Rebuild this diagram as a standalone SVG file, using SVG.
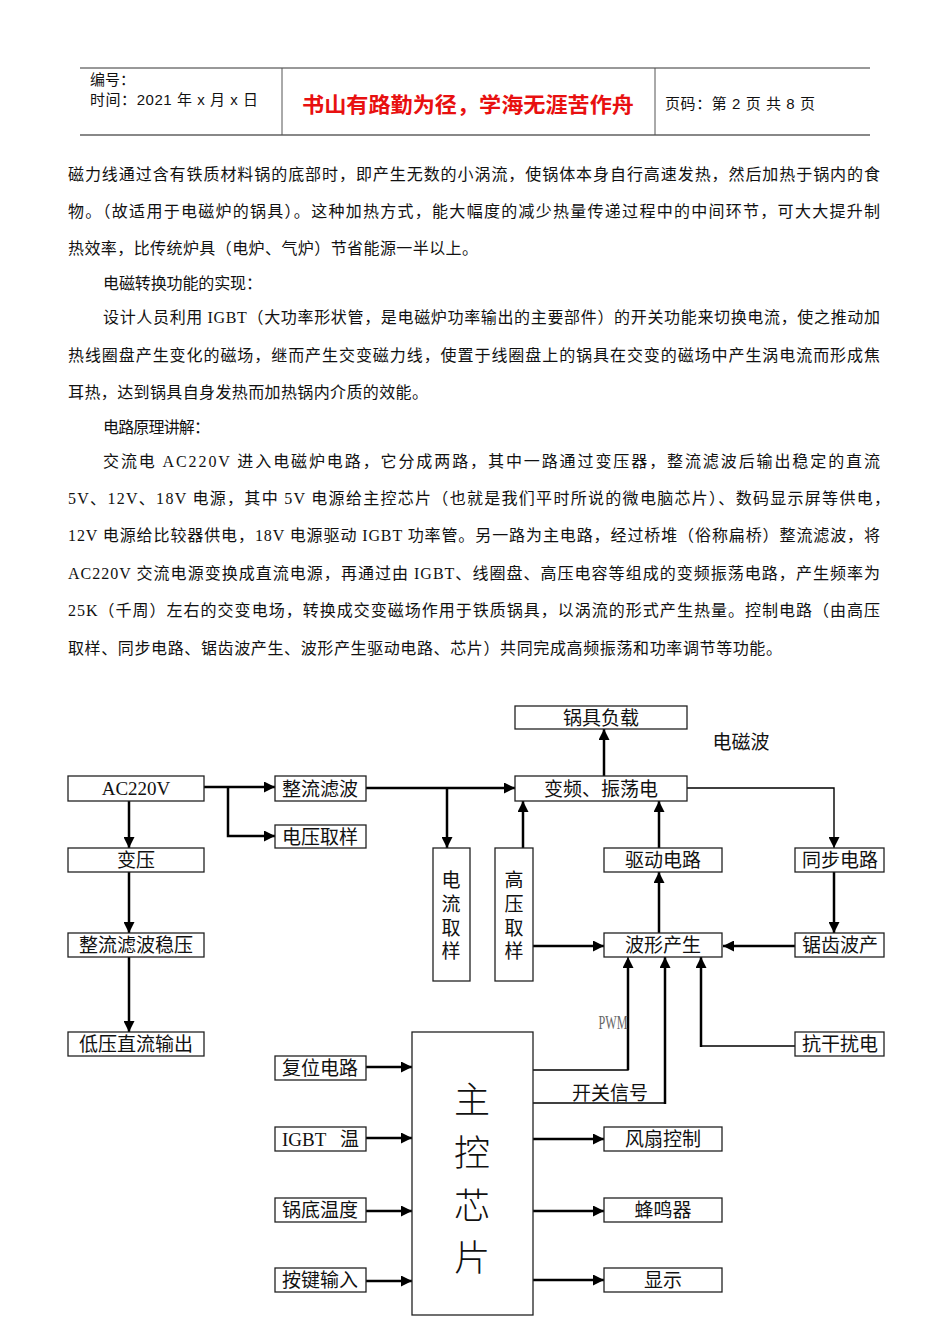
<svg xmlns="http://www.w3.org/2000/svg" width="950" height="1344" viewBox="0 0 950 1344">
<style>
.p{font-family:"Liberation Serif","Noto Sans CJK SC",serif;font-size:16px;fill:#111}
.h{font-family:"Liberation Sans","Noto Sans CJK SC",sans-serif;font-size:15px;fill:#111}
.box{fill:#fff;stroke:#222;stroke-width:1.3}
.lbl{font-family:"Liberation Serif","Noto Sans CJK SC",sans-serif;font-size:19px;fill:#111;text-anchor:middle}
.c{fill:none;stroke:#000;stroke-width:2.5}
.t{fill:none;stroke:#000;stroke-width:1.4}
</style>
<defs>
<marker id="ah" viewBox="0 0 10 10" refX="10" refY="5" markerWidth="11" markerHeight="11" markerUnits="userSpaceOnUse" orient="auto"><path d="M0,0 L10,5 L0,10 z" fill="#000"/></marker>
</defs>
<rect width="950" height="1344" fill="#fff"/>
<g id="header">
<line x1="80" y1="68" x2="870" y2="68" stroke="#333" stroke-width="1"/>
<line x1="80" y1="135" x2="870" y2="135" stroke="#888" stroke-width="2"/>
<line x1="282" y1="68" x2="282" y2="135" stroke="#555" stroke-width="1"/>
<line x1="655" y1="68" x2="655" y2="135" stroke="#555" stroke-width="1"/>
<text class="h" x="90" y="85">编号：</text>
<text class="h" x="90" y="105" textLength="168" lengthAdjust="spacing">时间：2021 年 x 月 x 日</text>
<text x="302" y="112" textLength="332" lengthAdjust="spacingAndGlyphs" style="font-family:'Noto Sans CJK SC',sans-serif;font-size:21px;font-weight:bold;fill:#e81010">书山有路勤为径，学海无涯苦作舟</text>
<text class="h" x="665" y="109" textLength="150" lengthAdjust="spacing">页码：第 2 页  共 8 页</text>
</g>
<g id="body-text">
<text class="p" x="68" y="180" textLength="812" lengthAdjust="spacing">磁力线通过含有铁质材料锅的底部时，即产生无数的小涡流，使锅体本身自行高速发热，然后加热于锅内的食</text>
<text class="p" x="68" y="217" textLength="812" lengthAdjust="spacing">物。（故适用于电磁炉的锅具）。这种加热方式，能大幅度的减少热量传递过程中的中间环节，可大大提升制</text>
<text class="p" x="68" y="254" textLength="410" lengthAdjust="spacing">热效率，比传统炉具（电炉、气炉）节省能源一半以上。</text>
<text class="p" x="103" y="289" textLength="159" lengthAdjust="spacing">电磁转换功能的实现：</text>
<text class="p" x="103" y="323" textLength="777" lengthAdjust="spacing">设计人员利用 IGBT（大功率形状管，是电磁炉功率输出的主要部件）的开关功能来切换电流，使之推动加</text>
<text class="p" x="68" y="361" textLength="812" lengthAdjust="spacing">热线圈盘产生变化的磁场，继而产生交变磁力线，使置于线圈盘上的锅具在交变的磁场中产生涡电流而形成焦</text>
<text class="p" x="68" y="398" textLength="360" lengthAdjust="spacing">耳热，达到锅具自身发热而加热锅内介质的效能。</text>
<text class="p" x="103" y="433" textLength="107" lengthAdjust="spacing">电路原理讲解：</text>
<text class="p" x="103" y="467" textLength="777" lengthAdjust="spacing">交流电 AC220V 进入电磁炉电路，它分成两路，其中一路通过变压器，整流滤波后输出稳定的直流</text>
<text class="p" x="68" y="504" textLength="822" lengthAdjust="spacing">5V、12V、18V 电源，其中 5V 电源给主控芯片（也就是我们平时所说的微电脑芯片）、数码显示屏等供电，</text>
<text class="p" x="68" y="541" textLength="812" lengthAdjust="spacing">12V 电源给比较器供电，18V 电源驱动 IGBT 功率管。另一路为主电路，经过桥堆（俗称扁桥）整流滤波，将</text>
<text class="p" x="68" y="579" textLength="812" lengthAdjust="spacing">AC220V 交流电源变换成直流电源，再通过由 IGBT、线圈盘、高压电容等组成的变频振荡电路，产生频率为</text>
<text class="p" x="68" y="616" textLength="812" lengthAdjust="spacing">25K（千周）左右的交变电场，转换成交变磁场作用于铁质锅具，以涡流的形式产生热量。控制电路（由高压</text>
<text class="p" x="68" y="654" textLength="714" lengthAdjust="spacing">取样、同步电路、锯齿波产生、波形产生驱动电路、芯片）共同完成高频振荡和功率调节等功能。</text>
</g>
<g id="connectors">
<path class="c" d="M204,787 H275" marker-end="url(#ah)"/>
<path class="c" d="M228,787 V836 H275" marker-end="url(#ah)"/>
<path class="c" d="M129,801 V848" marker-end="url(#ah)"/>
<path class="c" d="M129,872 V933" marker-end="url(#ah)"/>
<path class="c" d="M129,957 V1032" marker-end="url(#ah)"/>
<path class="c" d="M366,788 H515" marker-end="url(#ah)"/>
<path class="c" d="M447,788 V848" marker-end="url(#ah)"/>
<path class="c" d="M523,848 V801" marker-end="url(#ah)"/>
<path class="c" d="M604,776 V729" marker-end="url(#ah)"/>
<path class="t" d="M687,788 H834 V848" marker-end="url(#ah)"/>
<path class="c" d="M834,872 V933" marker-end="url(#ah)"/>
<path class="c" d="M795,946 H723" marker-end="url(#ah)"/>
<path class="c" d="M533,946 H604" marker-end="url(#ah)"/>
<path class="c" d="M659,933 V872" marker-end="url(#ah)"/>
<path class="c" d="M659,848 V801" marker-end="url(#ah)"/>
<path class="t" d="M533,1070 H628 V957" marker-end="url(#ah)"/>
<path class="c" d="M628,1070 V960" />
<path class="t" d="M533,1103 H665" />
<path class="c" d="M665,1104 V957" marker-end="url(#ah)"/>
<path class="t" d="M795,1046 H701" />
<path class="c" d="M701,1047 V957" marker-end="url(#ah)"/>
<path class="c" d="M366,1067 H412" marker-end="url(#ah)"/>
<path class="c" d="M366,1138 H412" marker-end="url(#ah)"/>
<path class="c" d="M366,1211 H412" marker-end="url(#ah)"/>
<path class="c" d="M366,1281 H412" marker-end="url(#ah)"/>
<path class="c" d="M533,1139 H604" marker-end="url(#ah)"/>
<path class="c" d="M533,1211 H604" marker-end="url(#ah)"/>
<path class="c" d="M533,1280 H604" marker-end="url(#ah)"/>
<text x="613" y="1029" text-anchor="middle" textLength="29" lengthAdjust="spacingAndGlyphs" style="font-family:'Liberation Serif',serif;font-size:18px;fill:#666">PWM</text>
<text x="610" y="1100" text-anchor="middle" style="font-family:'Noto Sans CJK SC',sans-serif;font-size:19px;fill:#111">开关信号</text>
<text x="741" y="749" text-anchor="middle" style="font-family:'Noto Sans CJK SC',sans-serif;font-size:19px;fill:#111">电磁波</text>
</g>
<g id="n-load"><rect class="box" x="515" y="706" width="172" height="23"/><text class="lbl" x="601" y="725">锅具负载</text></g>
<g id="n-ac"><rect class="box" x="68" y="776" width="136" height="25"/><text class="lbl" x="136" y="795">AC220V</text></g>
<g id="n-rect"><rect class="box" x="275" y="776" width="91" height="25"/><text class="lbl" x="320" y="796">整流滤波</text></g>
<g id="n-vsample"><rect class="box" x="275" y="825" width="91" height="23"/><text class="lbl" x="320" y="844">电压取样</text></g>
<g id="n-osc"><rect class="box" x="515" y="776" width="172" height="25"/><text class="lbl" x="601" y="796">变频、振荡电</text></g>
<g id="n-xfmr"><rect class="box" x="68" y="848" width="136" height="24"/><text class="lbl" x="136" y="867">变压</text></g>
<g id="n-isample"><rect class="box" x="433" y="848" width="37" height="133"/>
<text class="lbl" x="451" y="887">电</text><text class="lbl" x="451" y="911">流</text><text class="lbl" x="451" y="935">取</text><text class="lbl" x="451" y="958">样</text></g>
<g id="n-hvsample"><rect class="box" x="495" y="848" width="38" height="133"/>
<text class="lbl" x="514" y="887">高</text><text class="lbl" x="514" y="911">压</text><text class="lbl" x="514" y="935">取</text><text class="lbl" x="514" y="958">样</text></g>
<g id="n-drive"><rect class="box" x="604" y="848" width="118" height="24"/><text class="lbl" x="663" y="867">驱动电路</text></g>
<g id="n-sync"><rect class="box" x="795" y="848" width="89" height="24"/><text class="lbl" x="840" y="867">同步电路</text></g>
<g id="n-reg"><rect class="box" x="68" y="933" width="136" height="24"/><text class="lbl" x="136" y="952">整流滤波稳压</text></g>
<g id="n-wave"><rect class="box" x="604" y="933" width="118" height="24"/><text class="lbl" x="663" y="952">波形产生</text></g>
<g id="n-saw"><rect class="box" x="795" y="933" width="89" height="24"/><text class="lbl" x="840" y="952">锯齿波产</text></g>
<g id="n-lvdc"><rect class="box" x="68" y="1032" width="136" height="24"/><text class="lbl" x="136" y="1051">低压直流输出</text></g>
<g id="n-emi"><rect class="box" x="795" y="1032" width="89" height="24"/><text class="lbl" x="840" y="1051">抗干扰电</text></g>
<g id="n-mcu"><rect class="box" x="412" y="1032" width="121" height="283"/>
<g style="font-family:'Noto Sans CJK SC',sans-serif;font-size:36px;font-weight:300;fill:#111;text-anchor:middle">
<text x="472" y="1113">主</text><text x="472" y="1166">控</text><text x="472" y="1219">芯</text><text x="472" y="1271">片</text></g></g>
<g id="n-reset"><rect class="box" x="275" y="1056" width="91" height="24"/><text class="lbl" x="320" y="1075">复位电路</text></g>
<g id="n-igbt"><rect class="box" x="275" y="1127" width="91" height="24"/><text class="lbl" x="282" y="1146" style="text-anchor:start">IGBT  <tspan x="340">温</tspan></text></g>
<g id="n-pot"><rect class="box" x="275" y="1198" width="91" height="24"/><text class="lbl" x="320" y="1217">锅底温度</text></g>
<g id="n-key"><rect class="box" x="275" y="1268" width="91" height="24"/><text class="lbl" x="320" y="1287">按键输入</text></g>
<g id="n-fan"><rect class="box" x="604" y="1127" width="118" height="24"/><text class="lbl" x="663" y="1146">风扇控制</text></g>
<g id="n-buzz"><rect class="box" x="604" y="1198" width="118" height="24"/><text class="lbl" x="663" y="1217">蜂鸣器</text></g>
<g id="n-disp"><rect class="box" x="604" y="1268" width="118" height="24"/><text class="lbl" x="663" y="1287">显示</text></g>
</svg>
